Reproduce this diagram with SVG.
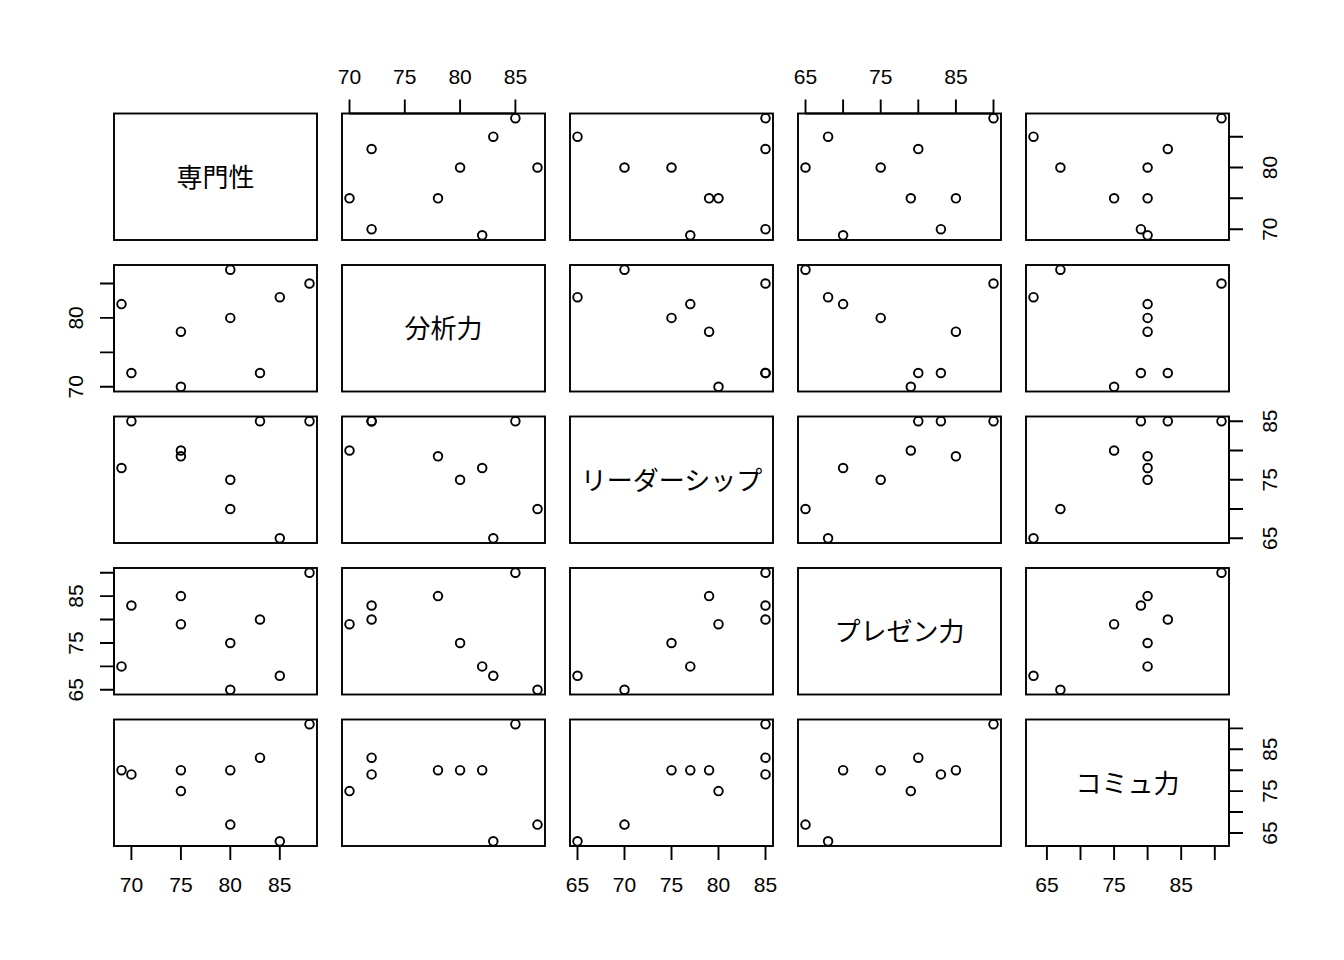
<svg xmlns="http://www.w3.org/2000/svg" width="1344" height="960" viewBox="0 0 1344 960">
<style>
.box{fill:none;stroke:#000;stroke-width:1.9}
.ax{fill:none;stroke:#000;stroke-width:1.9}
.pt{fill:none;stroke:#000;stroke-width:1.9}
.tl{font-family:"Liberation Sans",Arial,sans-serif;font-size:21px;fill:#000;text-anchor:middle}
.dl{font-family:"Liberation Sans","Noto Sans CJK JP",sans-serif;font-size:26px;fill:#000;text-anchor:middle}
</style>
<rect width="1344" height="960" fill="#fff"/>
<defs>
<rect id="frame" class="box" x="0" y="0" width="203" height="126.5"/>
</defs>

<!-- Row 1 -->
<g id="p11" transform="translate(114,113.5)">
<use href="#frame"/>
<text class="dl" x="101.5" y="73">専門性</text>
</g>
<g id="p12" transform="translate(342,113.5)">
<use href="#frame"/>
<g class="pt"><circle cx="140.2" cy="121.8" r="4.3"/><circle cx="29.6" cy="115.7" r="4.3"/><circle cx="96.0" cy="84.8" r="4.3"/><circle cx="7.5" cy="84.8" r="4.3"/><circle cx="195.5" cy="54.0" r="4.3"/><circle cx="118.1" cy="54.0" r="4.3"/><circle cx="151.3" cy="23.2" r="4.3"/><circle cx="29.6" cy="35.5" r="4.3"/><circle cx="173.4" cy="4.7" r="4.3"/></g>
</g>
<g id="p13" transform="translate(570,113.5)">
<use href="#frame"/>
<g class="pt"><circle cx="120.3" cy="121.8" r="4.3"/><circle cx="195.5" cy="115.7" r="4.3"/><circle cx="139.1" cy="84.8" r="4.3"/><circle cx="148.5" cy="84.8" r="4.3"/><circle cx="54.5" cy="54.0" r="4.3"/><circle cx="101.5" cy="54.0" r="4.3"/><circle cx="7.5" cy="23.2" r="4.3"/><circle cx="195.5" cy="35.5" r="4.3"/><circle cx="195.5" cy="4.7" r="4.3"/></g>
</g>
<g id="p14" transform="translate(798,113.5)">
<use href="#frame"/>
<g class="pt"><circle cx="45.1" cy="121.8" r="4.3"/><circle cx="142.9" cy="115.7" r="4.3"/><circle cx="157.9" cy="84.8" r="4.3"/><circle cx="112.8" cy="84.8" r="4.3"/><circle cx="7.5" cy="54.0" r="4.3"/><circle cx="82.7" cy="54.0" r="4.3"/><circle cx="30.1" cy="23.2" r="4.3"/><circle cx="120.3" cy="35.5" r="4.3"/><circle cx="195.5" cy="4.7" r="4.3"/></g>
</g>
<g id="p15" transform="translate(1026,113.5)">
<use href="#frame"/>
<g class="pt"><circle cx="121.6" cy="121.8" r="4.3"/><circle cx="114.9" cy="115.7" r="4.3"/><circle cx="121.6" cy="84.8" r="4.3"/><circle cx="88.1" cy="84.8" r="4.3"/><circle cx="34.4" cy="54.0" r="4.3"/><circle cx="121.6" cy="54.0" r="4.3"/><circle cx="7.5" cy="23.2" r="4.3"/><circle cx="141.8" cy="35.5" r="4.3"/><circle cx="195.5" cy="4.7" r="4.3"/></g>
</g>

<!-- Row 2 -->
<g id="p21" transform="translate(114,265)">
<use href="#frame"/>
<g class="pt"><circle cx="7.5" cy="39.1" r="4.3"/><circle cx="17.4" cy="108.0" r="4.3"/><circle cx="66.9" cy="66.7" r="4.3"/><circle cx="66.9" cy="121.8" r="4.3"/><circle cx="116.3" cy="4.7" r="4.3"/><circle cx="116.3" cy="52.9" r="4.3"/><circle cx="165.8" cy="32.2" r="4.3"/><circle cx="146.0" cy="108.0" r="4.3"/><circle cx="195.5" cy="18.5" r="4.3"/></g>
</g>
<g id="p22" transform="translate(342,265)">
<use href="#frame"/>
<text class="dl" x="101.5" y="73">分析力</text>
</g>
<g id="p23" transform="translate(570,265)">
<use href="#frame"/>
<g class="pt"><circle cx="120.3" cy="39.1" r="4.3"/><circle cx="195.5" cy="108.0" r="4.3"/><circle cx="139.1" cy="66.7" r="4.3"/><circle cx="148.5" cy="121.8" r="4.3"/><circle cx="54.5" cy="4.7" r="4.3"/><circle cx="101.5" cy="52.9" r="4.3"/><circle cx="7.5" cy="32.2" r="4.3"/><circle cx="195.5" cy="108.0" r="4.3"/><circle cx="195.5" cy="18.5" r="4.3"/></g>
</g>
<g id="p24" transform="translate(798,265)">
<use href="#frame"/>
<g class="pt"><circle cx="45.1" cy="39.1" r="4.3"/><circle cx="142.9" cy="108.0" r="4.3"/><circle cx="157.9" cy="66.7" r="4.3"/><circle cx="112.8" cy="121.8" r="4.3"/><circle cx="7.5" cy="4.7" r="4.3"/><circle cx="82.7" cy="52.9" r="4.3"/><circle cx="30.1" cy="32.2" r="4.3"/><circle cx="120.3" cy="108.0" r="4.3"/><circle cx="195.5" cy="18.5" r="4.3"/></g>
</g>
<g id="p25" transform="translate(1026,265)">
<use href="#frame"/>
<g class="pt"><circle cx="121.6" cy="39.1" r="4.3"/><circle cx="114.9" cy="108.0" r="4.3"/><circle cx="121.6" cy="66.7" r="4.3"/><circle cx="88.1" cy="121.8" r="4.3"/><circle cx="34.4" cy="4.7" r="4.3"/><circle cx="121.6" cy="52.9" r="4.3"/><circle cx="7.5" cy="32.2" r="4.3"/><circle cx="141.8" cy="108.0" r="4.3"/><circle cx="195.5" cy="18.5" r="4.3"/></g>
</g>

<!-- Row 3 -->
<g id="p31" transform="translate(114,416.5)">
<use href="#frame"/>
<g class="pt"><circle cx="7.5" cy="51.5" r="4.3"/><circle cx="17.4" cy="4.7" r="4.3"/><circle cx="66.9" cy="39.8" r="4.3"/><circle cx="66.9" cy="34.0" r="4.3"/><circle cx="116.3" cy="92.5" r="4.3"/><circle cx="116.3" cy="63.3" r="4.3"/><circle cx="165.8" cy="121.8" r="4.3"/><circle cx="146.0" cy="4.7" r="4.3"/><circle cx="195.5" cy="4.7" r="4.3"/></g>
</g>
<g id="p32" transform="translate(342,416.5)">
<use href="#frame"/>
<g class="pt"><circle cx="140.2" cy="51.5" r="4.3"/><circle cx="29.6" cy="4.7" r="4.3"/><circle cx="96.0" cy="39.8" r="4.3"/><circle cx="7.5" cy="34.0" r="4.3"/><circle cx="195.5" cy="92.5" r="4.3"/><circle cx="118.1" cy="63.3" r="4.3"/><circle cx="151.3" cy="121.8" r="4.3"/><circle cx="29.6" cy="4.7" r="4.3"/><circle cx="173.4" cy="4.7" r="4.3"/></g>
</g>
<g id="p33" transform="translate(570,416.5)">
<use href="#frame"/>
<text class="dl" x="101.5" y="73">リーダーシップ</text>
</g>
<g id="p34" transform="translate(798,416.5)">
<use href="#frame"/>
<g class="pt"><circle cx="45.1" cy="51.5" r="4.3"/><circle cx="142.9" cy="4.7" r="4.3"/><circle cx="157.9" cy="39.8" r="4.3"/><circle cx="112.8" cy="34.0" r="4.3"/><circle cx="7.5" cy="92.5" r="4.3"/><circle cx="82.7" cy="63.3" r="4.3"/><circle cx="30.1" cy="121.8" r="4.3"/><circle cx="120.3" cy="4.7" r="4.3"/><circle cx="195.5" cy="4.7" r="4.3"/></g>
</g>
<g id="p35" transform="translate(1026,416.5)">
<use href="#frame"/>
<g class="pt"><circle cx="121.6" cy="51.5" r="4.3"/><circle cx="114.9" cy="4.7" r="4.3"/><circle cx="121.6" cy="39.8" r="4.3"/><circle cx="88.1" cy="34.0" r="4.3"/><circle cx="34.4" cy="92.5" r="4.3"/><circle cx="121.6" cy="63.3" r="4.3"/><circle cx="7.5" cy="121.8" r="4.3"/><circle cx="141.8" cy="4.7" r="4.3"/><circle cx="195.5" cy="4.7" r="4.3"/></g>
</g>

<!-- Row 4 -->
<g id="p41" transform="translate(114,568)">
<use href="#frame"/>
<g class="pt"><circle cx="7.5" cy="98.4" r="4.3"/><circle cx="17.4" cy="37.5" r="4.3"/><circle cx="66.9" cy="28.1" r="4.3"/><circle cx="66.9" cy="56.2" r="4.3"/><circle cx="116.3" cy="121.8" r="4.3"/><circle cx="116.3" cy="75.0" r="4.3"/><circle cx="165.8" cy="107.8" r="4.3"/><circle cx="146.0" cy="51.5" r="4.3"/><circle cx="195.5" cy="4.7" r="4.3"/></g>
</g>
<g id="p42" transform="translate(342,568)">
<use href="#frame"/>
<g class="pt"><circle cx="140.2" cy="98.4" r="4.3"/><circle cx="29.6" cy="37.5" r="4.3"/><circle cx="96.0" cy="28.1" r="4.3"/><circle cx="7.5" cy="56.2" r="4.3"/><circle cx="195.5" cy="121.8" r="4.3"/><circle cx="118.1" cy="75.0" r="4.3"/><circle cx="151.3" cy="107.8" r="4.3"/><circle cx="29.6" cy="51.5" r="4.3"/><circle cx="173.4" cy="4.7" r="4.3"/></g>
</g>
<g id="p43" transform="translate(570,568)">
<use href="#frame"/>
<g class="pt"><circle cx="120.3" cy="98.4" r="4.3"/><circle cx="195.5" cy="37.5" r="4.3"/><circle cx="139.1" cy="28.1" r="4.3"/><circle cx="148.5" cy="56.2" r="4.3"/><circle cx="54.5" cy="121.8" r="4.3"/><circle cx="101.5" cy="75.0" r="4.3"/><circle cx="7.5" cy="107.8" r="4.3"/><circle cx="195.5" cy="51.5" r="4.3"/><circle cx="195.5" cy="4.7" r="4.3"/></g>
</g>
<g id="p44" transform="translate(798,568)">
<use href="#frame"/>
<text class="dl" x="101.5" y="73">プレゼン力</text>
</g>
<g id="p45" transform="translate(1026,568)">
<use href="#frame"/>
<g class="pt"><circle cx="121.6" cy="98.4" r="4.3"/><circle cx="114.9" cy="37.5" r="4.3"/><circle cx="121.6" cy="28.1" r="4.3"/><circle cx="88.1" cy="56.2" r="4.3"/><circle cx="34.4" cy="121.8" r="4.3"/><circle cx="121.6" cy="75.0" r="4.3"/><circle cx="7.5" cy="107.8" r="4.3"/><circle cx="141.8" cy="51.5" r="4.3"/><circle cx="195.5" cy="4.7" r="4.3"/></g>
</g>

<!-- Row 5 -->
<g id="p51" transform="translate(114,719.5)">
<use href="#frame"/>
<g class="pt"><circle cx="7.5" cy="50.7" r="4.3"/><circle cx="17.4" cy="54.9" r="4.3"/><circle cx="66.9" cy="50.7" r="4.3"/><circle cx="66.9" cy="71.6" r="4.3"/><circle cx="116.3" cy="105.1" r="4.3"/><circle cx="116.3" cy="50.7" r="4.3"/><circle cx="165.8" cy="121.8" r="4.3"/><circle cx="146.0" cy="38.2" r="4.3"/><circle cx="195.5" cy="4.7" r="4.3"/></g>
</g>
<g id="p52" transform="translate(342,719.5)">
<use href="#frame"/>
<g class="pt"><circle cx="140.2" cy="50.7" r="4.3"/><circle cx="29.6" cy="54.9" r="4.3"/><circle cx="96.0" cy="50.7" r="4.3"/><circle cx="7.5" cy="71.6" r="4.3"/><circle cx="195.5" cy="105.1" r="4.3"/><circle cx="118.1" cy="50.7" r="4.3"/><circle cx="151.3" cy="121.8" r="4.3"/><circle cx="29.6" cy="38.2" r="4.3"/><circle cx="173.4" cy="4.7" r="4.3"/></g>
</g>
<g id="p53" transform="translate(570,719.5)">
<use href="#frame"/>
<g class="pt"><circle cx="120.3" cy="50.7" r="4.3"/><circle cx="195.5" cy="54.9" r="4.3"/><circle cx="139.1" cy="50.7" r="4.3"/><circle cx="148.5" cy="71.6" r="4.3"/><circle cx="54.5" cy="105.1" r="4.3"/><circle cx="101.5" cy="50.7" r="4.3"/><circle cx="7.5" cy="121.8" r="4.3"/><circle cx="195.5" cy="38.2" r="4.3"/><circle cx="195.5" cy="4.7" r="4.3"/></g>
</g>
<g id="p54" transform="translate(798,719.5)">
<use href="#frame"/>
<g class="pt"><circle cx="45.1" cy="50.7" r="4.3"/><circle cx="142.9" cy="54.9" r="4.3"/><circle cx="157.9" cy="50.7" r="4.3"/><circle cx="112.8" cy="71.6" r="4.3"/><circle cx="7.5" cy="105.1" r="4.3"/><circle cx="82.7" cy="50.7" r="4.3"/><circle cx="30.1" cy="121.8" r="4.3"/><circle cx="120.3" cy="38.2" r="4.3"/><circle cx="195.5" cy="4.7" r="4.3"/></g>
</g>
<g id="p55" transform="translate(1026,719.5)">
<use href="#frame"/>
<text class="dl" x="101.5" y="73">コミュ力</text>
</g>

<!-- Axes -->
<g id="axes">
<path class="ax" d="M131.4,846H279.8M131.4,846v14M180.9,846v14M230.3,846v14M279.8,846v14"/>
<text class="tl" x="131.4" y="892">70</text><text class="tl" x="180.9" y="892">75</text><text class="tl" x="230.3" y="892">80</text><text class="tl" x="279.8" y="892">85</text>
<path class="ax" d="M577.5,846H765.5M577.5,846v14M624.5,846v14M671.5,846v14M718.5,846v14M765.5,846v14"/>
<text class="tl" x="577.5" y="892">65</text><text class="tl" x="624.5" y="892">70</text><text class="tl" x="671.5" y="892">75</text><text class="tl" x="718.5" y="892">80</text><text class="tl" x="765.5" y="892">85</text>
<path class="ax" d="M1046.9,846H1214.8M1046.9,846v14M1080.5,846v14M1114.1,846v14M1147.6,846v14M1181.2,846v14M1214.8,846v14"/>
<text class="tl" x="1046.9" y="892">65</text><text class="tl" x="1114.1" y="892">75</text><text class="tl" x="1181.2" y="892">85</text>
<path class="ax" d="M349.5,113.5H515.4M349.5,113.5v-14M404.8,113.5v-14M460.1,113.5v-14M515.4,113.5v-14"/>
<text class="tl" x="349.5" y="84">70</text><text class="tl" x="404.8" y="84">75</text><text class="tl" x="460.1" y="84">80</text><text class="tl" x="515.4" y="84">85</text>
<path class="ax" d="M805.5,113.5H993.5M805.5,113.5v-14M843.1,113.5v-14M880.7,113.5v-14M918.3,113.5v-14M955.9,113.5v-14M993.5,113.5v-14"/>
<text class="tl" x="805.5" y="84">65</text><text class="tl" x="880.7" y="84">75</text><text class="tl" x="955.9" y="84">85</text>
<path class="ax" d="M114,386.8V283.5M114,386.8h-14M114,352.4h-14M114,317.9h-14M114,283.5h-14"/>
<text class="tl" transform="translate(83,386.8) rotate(-90)">70</text><text class="tl" transform="translate(83,317.9) rotate(-90)">80</text>
<path class="ax" d="M114,689.8V572.7M114,689.8h-14M114,666.4h-14M114,643h-14M114,619.5h-14M114,596.1h-14M114,572.7h-14"/>
<text class="tl" transform="translate(83,689.8) rotate(-90)">65</text><text class="tl" transform="translate(83,643) rotate(-90)">75</text><text class="tl" transform="translate(83,596.1) rotate(-90)">85</text>
<path class="ax" d="M1229,229.2V136.7M1229,229.2h14M1229,198.3h14M1229,167.5h14M1229,136.7h14"/>
<text class="tl" transform="translate(1277,229.2) rotate(-90)">70</text><text class="tl" transform="translate(1277,167.5) rotate(-90)">80</text>
<path class="ax" d="M1229,538.3V421.2M1229,538.3h14M1229,509h14M1229,479.8h14M1229,450.5h14M1229,421.2h14"/>
<text class="tl" transform="translate(1277,538.3) rotate(-90)">65</text><text class="tl" transform="translate(1277,479.8) rotate(-90)">75</text><text class="tl" transform="translate(1277,421.2) rotate(-90)">85</text>
<path class="ax" d="M1229,833V728.4M1229,833h14M1229,812h14M1229,791.1h14M1229,770.2h14M1229,749.3h14M1229,728.4h14"/>
<text class="tl" transform="translate(1277,833) rotate(-90)">65</text><text class="tl" transform="translate(1277,791.1) rotate(-90)">75</text><text class="tl" transform="translate(1277,749.3) rotate(-90)">85</text>
</g>
<g id="connectors"/>
</svg>
